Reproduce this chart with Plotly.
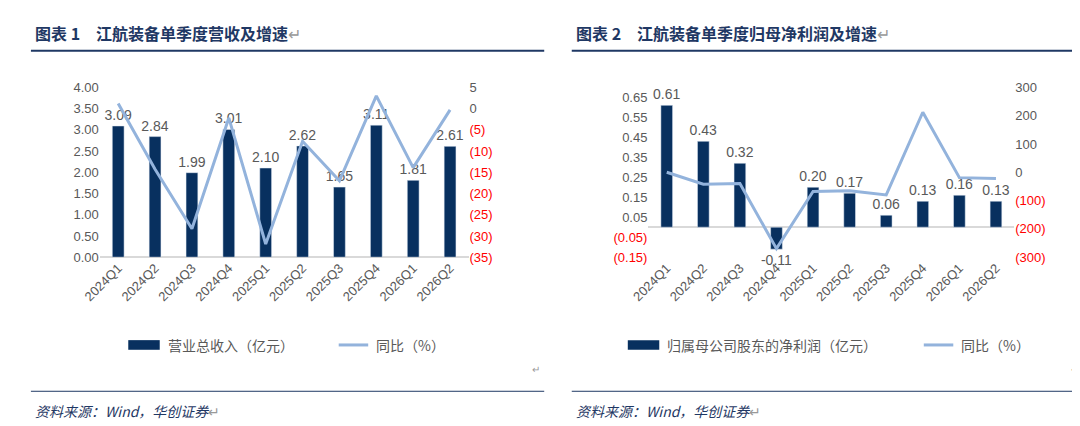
import plotly.graph_objects as go

quarters = ["2024Q1","2024Q2","2024Q3","2024Q4","2025Q1","2025Q2","2025Q3","2025Q4","2026Q1","2026Q2"]
revenue = [3.09, 2.84, 1.99, 3.01, 2.10, 2.62, 1.65, 3.11, 1.81, 2.61]
revenue_yoy = [1.2, -14.3, -28.3, -2.2, -31.9, -7.7, -17.0, 3.0, -13.9, -0.3]
profit = [0.61, 0.43, 0.32, -0.11, 0.20, 0.17, 0.06, 0.13, 0.16, 0.13]
profit_yoy = [0, -42, -40, -270, -68, -65, -80, 212, -19, -22]

BAR = "#08305f"
LINE = "#93b3dc"
GRAY = "#595959"
TITLE = "#1f3864"
FONT = "Liberation Sans, Arial"

def fmt(v, d):
    if v < 0:
        return "<span style='color:#ff0000'>(%s)</span>" % format(-v, ".%df" % d)
    return format(v, ".%df" % d)

fig = go.Figure()
fig.add_bar(x=quarters, y=revenue, marker_color=BAR, width=0.32, xaxis="x", yaxis="y",
            text=["%.2f" % v for v in revenue], textposition="outside", textangle=0,
            constraintext="none", textfont=dict(size=14, color=GRAY), cliponaxis=False)
fig.add_scatter(x=quarters, y=revenue_yoy, mode="lines", line=dict(color=LINE, width=3),
                xaxis="x", yaxis="y2")
fig.add_bar(x=quarters, y=profit, marker_color=BAR, width=0.32, xaxis="x2", yaxis="y3",
            text=["%.2f" % v for v in profit], textposition="outside", textangle=0,
            constraintext="none", textfont=dict(size=14, color=GRAY), cliponaxis=False)
fig.add_scatter(x=quarters, y=profit_yoy, mode="lines", line=dict(color=LINE, width=3),
                xaxis="x2", yaxis="y4")

ydom = [1 - 251/426, 1 - 75/426]
tickf = dict(size=13, color=GRAY, family=FONT)
xcommon = dict(tickangle=-45, tickfont=tickf, showgrid=False, showline=False, ticks="", zeroline=False)

lt = [i*0.5 for i in range(9)]
rt = list(range(-35, 6, 5))
pt = [round(-0.15 + 0.1*i, 2) for i in range(9)]
pr = list(range(-300, 301, 100))

fig.update_layout(
    width=1080, height=426, margin=dict(l=0, r=0, t=0, b=0),
    paper_bgcolor="white", plot_bgcolor="white", showlegend=False,
    font=dict(family=FONT),
    xaxis=dict(domain=[75/1080, 450/1080], anchor="y", **xcommon),
    yaxis=dict(domain=ydom, anchor="x", range=[0, 4], tickvals=lt, ticktext=["%.2f" % v for v in lt],
               tickfont=tickf, showgrid=False, zeroline=True, zerolinecolor="#d9d9d9", zerolinewidth=1.5),
    yaxis2=dict(overlaying="y", anchor="x", side="right", range=[-35, 5], tickvals=rt,
                ticktext=[fmt(v, 0) for v in rt], tickfont=tickf, showgrid=False, zeroline=False),
    xaxis2=dict(domain=[633/1080, 1005/1080], anchor="y3", **xcommon),
    yaxis3=dict(domain=ydom, anchor="x2", range=[-0.15, 0.70], tickvals=pt, ticktext=[fmt(v, 2) for v in pt],
                tickfont=tickf, showgrid=False, zeroline=True, zerolinecolor="#d9d9d9", zerolinewidth=1.5),
    yaxis4=dict(overlaying="y3", anchor="x2", side="right", range=[-300, 300], tickvals=pr,
                ticktext=[fmt(v, 0) for v in pr], tickfont=tickf, showgrid=False, zeroline=False),
)

shapes = []
ann = []
for x0, x1, t in [(5, 527, "图表 1　江航装备单季度营收及增速"), (555, 1075, "图表 2　江航装备单季度归母净利润及增速")]:
    shapes.append(dict(type="line", xref="paper", yref="paper", x0=x0/1080, x1=x1/1080,
                       y0=1-37/426, y1=1-37/426, line=dict(color=TITLE, width=2)))
    shapes.append(dict(type="line", xref="paper", yref="paper", x0=x0/1080, x1=x1/1080,
                       y0=1-390/426, y1=1-390/426, line=dict(color=TITLE, width=1)))
    ann.append(dict(xref="paper", yref="paper", x=(x0+2)/1080, y=1-19/426, xanchor="left", yanchor="middle",
                    text="<b>%s</b><span style='color:#999999'>↵</span>" % t, showarrow=False,
                    font=dict(size=16, color=TITLE, family="Noto Sans CJK SC")))
    ann.append(dict(xref="paper", yref="paper", x=(x0+2)/1080, y=1-410/426, xanchor="left", yanchor="middle",
                    text="<i>资料来源：Wind，华创证券</i><span style='color:#999999'>↵</span>", showarrow=False,
                    font=dict(size=14, color=TITLE, family="Noto Sans CJK SC")))
    ann.append(dict(xref="paper", yref="paper", x=(x1-2)/1080, y=1-367/426, xanchor="right", yanchor="middle",
                    text="↵", showarrow=False, font=dict(size=10, color="#999999")))

ly = 1 - 342/426
for bx, label1, lx, label2 in [(104, "营业总收入（亿元）", 318, "同比（%）"),
                               (612, "归属母公司股东的净利润（亿元）", 913, "同比（%）")]:
    shapes.append(dict(type="rect", xref="paper", yref="paper", x0=bx/1080, x1=(bx+32)/1080,
                       y0=ly-5/426, y1=ly+5/426, fillcolor=BAR, line=dict(width=0)))
    ann.append(dict(xref="paper", yref="paper", x=(bx+38)/1080, y=ly, xanchor="left", yanchor="middle",
                    text=label1, showarrow=False, font=dict(size=14, color=GRAY, family="Noto Sans CJK SC")))
    shapes.append(dict(type="line", xref="paper", yref="paper", x0=lx/1080, x1=(lx+30)/1080,
                       y0=ly, y1=ly, line=dict(color=LINE, width=3)))
    ann.append(dict(xref="paper", yref="paper", x=(lx+36)/1080, y=ly, xanchor="left", yanchor="middle",
                    text=label2, showarrow=False, font=dict(size=14, color=GRAY, family="Noto Sans CJK SC")))

fig.update_layout(shapes=shapes, annotations=ann)
fig.write_html("out.html")
